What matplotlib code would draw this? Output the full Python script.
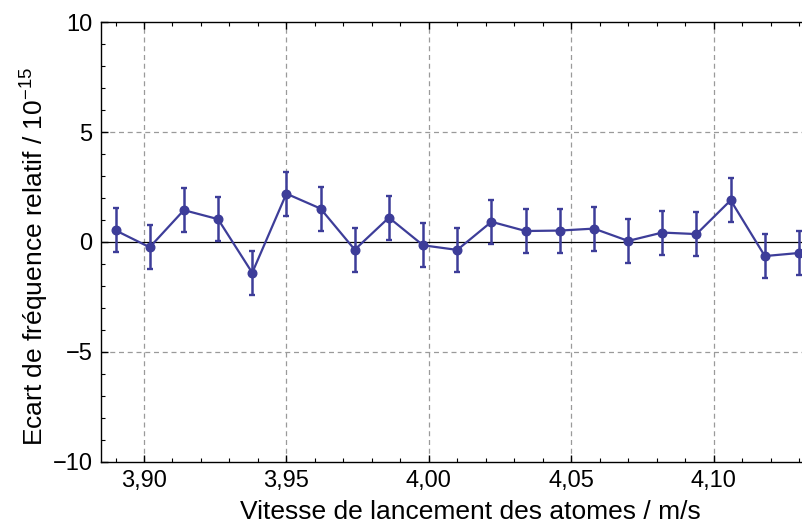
import matplotlib
matplotlib.use("Agg")
import matplotlib.pyplot as plt
from matplotlib.ticker import MultipleLocator, FuncFormatter

plt.rcParams['font.family'] = ['Liberation Sans', 'DejaVu Sans']
plt.rcParams['mathtext.fontset'] = 'custom'
plt.rcParams['mathtext.rm'] = 'Liberation Sans'

# Launch velocity (m/s) and relative frequency shift (1e-15) with uncertainty
vitesse = [3.890, 3.902, 3.914, 3.926, 3.938, 3.950, 3.962, 3.974, 3.986, 3.998,
           4.010, 4.022, 4.034, 4.046, 4.058, 4.070, 4.082, 4.094, 4.106, 4.118, 4.130]
ecart = [0.53, -0.24, 1.45, 1.04, -1.40, 2.20, 1.52, -0.35, 1.11, -0.15,
         -0.36, 0.92, 0.50, 0.52, 0.61, 0.05, 0.43, 0.36, 1.90, -0.64, -0.50]
incertitude = [1.0] * len(vitesse)

xticks = [3.90, 3.95, 4.00, 4.05, 4.10]
yticks = [-10, -5, 0, 5, 10]

W, H = 803, 527
fig = plt.figure(figsize=(W / 100, H / 100), dpi=100)
left, right, top, bottom = 101, 803, 22.3, 461.7
ax = fig.add_axes([left / W, (H - bottom) / H, (right - left) / W, (bottom - top) / H])

blue = '#3d3d99'
ax.set_xlim(3.8849, 4.1314)
ax.set_ylim(-10, 10)

# grid
for x in xticks:
    ax.axvline(x, color='#9a9a9a', lw=0.9, ls=(0, (4, 3)), zorder=0)
for y in [-5, 5]:
    ax.axhline(y, color='#9a9a9a', lw=0.9, ls=(0, (4, 3)), zorder=0)
ax.axhline(0, color='black', lw=0.9, zorder=1)

ax.errorbar(vitesse, ecart, yerr=incertitude, color=blue, lw=1.6, marker='o',
            markersize=6.2, elinewidth=1.8, capsize=2.4, capthick=1.7, zorder=3,
            clip_on=False)

ax.spines['right'].set_visible(False)
for s in ['left', 'top', 'bottom']:
    ax.spines[s].set_linewidth(1.0)

ax.set_xticks(xticks)
ax.set_yticks(yticks)
ax.xaxis.set_minor_locator(MultipleLocator(0.01))
ax.yaxis.set_minor_locator(MultipleLocator(1))
ax.xaxis.set_major_formatter(FuncFormatter(lambda v, p: f"{v:.2f}".replace('.', ',')))
ax.yaxis.set_major_formatter(FuncFormatter(lambda v, p: f"{int(round(v))}".replace('-', '\u2212')))
ax.tick_params(which='both', direction='in', top=True, right=False, labelsize=17,
               color='black')
ax.tick_params(which='major', length=5, width=1.0, pad=6)
ax.tick_params(which='minor', length=3, width=0.8)

ax.set_xlabel('Vitesse de lancement des atomes / m/s', fontsize=19)
ax.xaxis.set_label_coords(0.5256, -0.131)
ax.xaxis.label.set_va('baseline')
ax.set_ylabel('Ecart de fréquence relatif / 10$^{\u221215}$', fontsize=19)
ax.yaxis.set_label_coords(-0.072, 0.466)

fig.savefig('out.png', dpi=100)
